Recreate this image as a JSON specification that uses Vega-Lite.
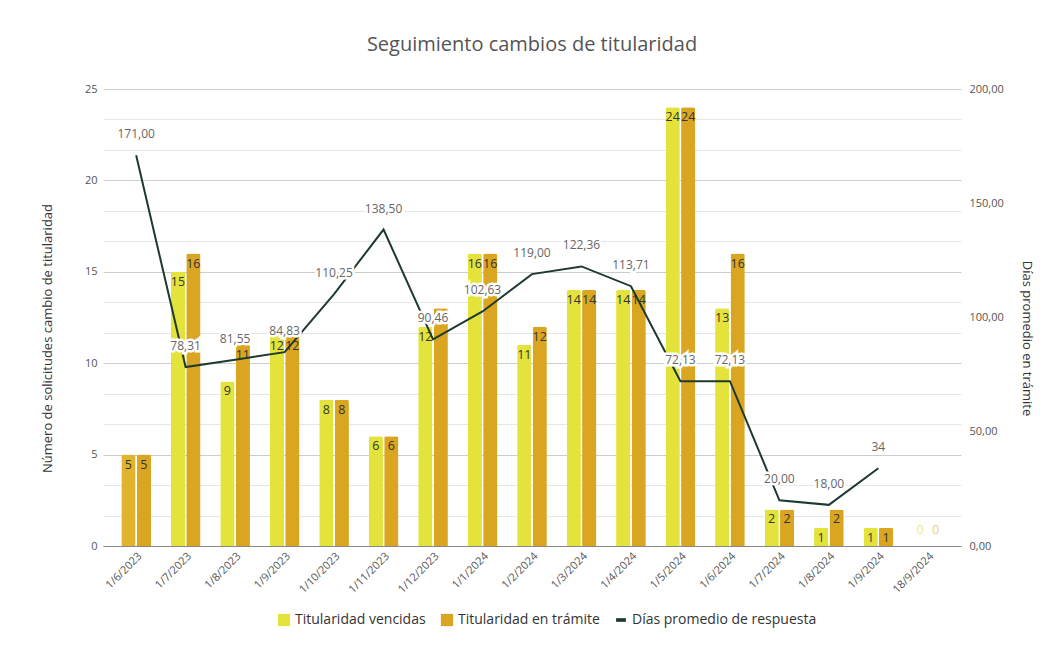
{
  "$schema": "https://vega.github.io/schema/vega-lite/v6.json",
  "width": 858,
  "height": 457,
  "autosize": {"type": "none"},
  "padding": {"left": 103, "top": 89, "right": 99, "bottom": 114},
  "background": "white",
  "config": {
    "locale": {"number": {"decimal": ",", "thousands": ".", "grouping": [3], "currency": ["", " €"]}},
    "font": "Open Sans",
    "view": {"stroke": null},
    "axis": {"labelColor": "#555555", "titleColor": "#333333", "labelFontSize": 11, "titleFontSize": 13, "titleFontWeight": "normal", "ticks": false},
    "legend": {"labelFontSize": 14, "labelColor": "#333333", "symbolSize": 150, "symbolStrokeWidth": 0, "columnPadding": 14, "labelLimit": 400}
  },
  "title": {"text": "Seguimiento cambios de titularidad", "fontSize": 20, "fontWeight": "normal", "color": "#555555", "offset": 28, "anchor": "middle"},
  "data": {
    "values": [
      {"fecha": "1/6/2023", "Titularidad vencidas": 5, "Titularidad en trámite": 5, "dias": 171},
      {"fecha": "1/7/2023", "Titularidad vencidas": 15, "Titularidad en trámite": 16, "dias": 78.31},
      {"fecha": "1/8/2023", "Titularidad vencidas": 9, "Titularidad en trámite": 11, "dias": 81.55},
      {"fecha": "1/9/2023", "Titularidad vencidas": 11.5, "Titularidad en trámite": 11.5, "dias": 84.83},
      {"fecha": "1/10/2023", "Titularidad vencidas": 8, "Titularidad en trámite": 8, "dias": 110.25},
      {"fecha": "1/11/2023", "Titularidad vencidas": 6, "Titularidad en trámite": 6, "dias": 138.5},
      {"fecha": "1/12/2023", "Titularidad vencidas": 12, "Titularidad en trámite": 13, "dias": 90.46},
      {"fecha": "1/1/2024", "Titularidad vencidas": 16, "Titularidad en trámite": 16, "dias": 102.63},
      {"fecha": "1/2/2024", "Titularidad vencidas": 11, "Titularidad en trámite": 12, "dias": 119},
      {"fecha": "1/3/2024", "Titularidad vencidas": 14, "Titularidad en trámite": 14, "dias": 122.36},
      {"fecha": "1/4/2024", "Titularidad vencidas": 14, "Titularidad en trámite": 14, "dias": 113.71},
      {"fecha": "1/5/2024", "Titularidad vencidas": 24, "Titularidad en trámite": 24, "dias": 72.13},
      {"fecha": "1/6/2024", "Titularidad vencidas": 13, "Titularidad en trámite": 16, "dias": 72.13},
      {"fecha": "1/7/2024", "Titularidad vencidas": 2, "Titularidad en trámite": 2, "dias": 20},
      {"fecha": "1/8/2024", "Titularidad vencidas": 1, "Titularidad en trámite": 2, "dias": 18},
      {"fecha": "1/9/2024", "Titularidad vencidas": 1, "Titularidad en trámite": 1, "dias": 34},
      {"fecha": "18/9/2024", "Titularidad vencidas": 0, "Titularidad en trámite": 0, "dias": null}
    ]
  },
  "encoding": {
    "x": {
      "field": "fecha", "type": "nominal", "sort": null,
      "scale": {"paddingInner": 0.4, "paddingOuter": 0.37},
      "axis": {"title": null, "labelAngle": -45, "domainColor": "#888888", "labelPadding": 4, "labelColor": "#555555"}
    }
  },
  "layer": [
    {
      "transform": [{"fold": ["Titularidad vencidas", "Titularidad en trámite"], "as": ["serie", "valor"]}],
      "encoding": {
        "xOffset": {"field": "serie", "type": "nominal", "sort": ["Titularidad vencidas", "Titularidad en trámite"], "scale": {"paddingInner": 0.08}},
        "y": {
          "field": "valor", "type": "quantitative",
          "scale": {"domain": [0, 25], "nice": false},
          "axis": {
            "title": "Número de solicitudes cambio de titularidad",
            "values": [0, 1.6667, 3.3333, 5, 6.6667, 8.3333, 10, 11.6667, 13.3333, 15, 16.6667, 18.3333, 20, 21.6667, 23.3333, 25],
            "format": ".0f",
            "labelExpr": "abs(datum.value / 5 - round(datum.value / 5)) < 0.01 ? datum.label : ''",
            "gridColor": {"condition": {"test": "abs(datum.value / 5 - round(datum.value / 5)) < 0.01", "value": "#cccccc"}, "value": "#e6e6e6"},
            "domain": false,
            "labelPadding": 6,
            "titlePadding": 30,
            "titleY": 249
          }
        }
      },
      "layer": [
        {
          "mark": {"type": "bar", "cornerRadiusEnd": 2},
          "encoding": {
            "color": {
              "condition": {"test": "datum.fecha == '1/6/2023' && datum.serie == 'Titularidad vencidas'", "value": "#e0b42c"},
              "field": "serie", "type": "nominal",
              "scale": {"domain": ["Titularidad vencidas", "Titularidad en trámite", "Días promedio de respuesta"], "range": ["#e3e33b", "#daa621", "#1d3a2e"]},
              "legend": {
                "title": null, "orient": "none", "legendX": 174, "legendY": 524, "direction": "horizontal", "symbolType": "square",
                "encode": {"symbols": {"update": {"shape": {"signal": "datum.value === 'Días promedio de respuesta' ? 'M-0.8,-0.3H0.8V0.3H-0.8Z' : 'square'"}}}}
              }
            }
          }
        },
        {
          "transform": [{"filter": "datum.valor > 0"}],
          "mark": {"type": "text", "dy": 10, "fontSize": 12.5, "color": "#333333", "baseline": "middle"},
          "encoding": {"text": {"field": "valor", "type": "quantitative", "format": ".0f"}}
        },
        {
          "transform": [{"filter": "datum.valor == 0"}],
          "mark": {"type": "text", "dy": -16, "fontSize": 12.5, "baseline": "middle"},
          "encoding": {
            "text": {"field": "valor", "type": "quantitative", "format": ".0f"},
            "color": {"condition": {"test": "datum.serie == 'Titularidad vencidas'", "value": "#ecec80"}, "value": "#e6cf80"}
          }
        }
      ]
    },
    {
      "transform": [{"filter": "isValid(datum.dias)"}],
      "encoding": {
        "y": {
          "field": "dias", "type": "quantitative",
          "scale": {"domain": [0, 200], "nice": false},
          "axis": {
            "orient": "right", "title": "Días promedio en trámite",
            "values": [0, 50, 100, 150, 200], "format": ",.2f",
            "grid": false, "domain": false, "labelPadding": 8, "titlePadding": 16, "titleY": 249
          }
        }
      },
      "layer": [
        {
          "mark": {"type": "line", "strokeWidth": 2},
          "encoding": {"color": {"datum": "Días promedio de respuesta"}}
        },
        {
          "mark": {"type": "text", "dy": -21, "fontSize": 12, "color": "white", "stroke": "white", "strokeWidth": 5, "baseline": "middle"},
          "encoding": {"text": {"condition": {"test": "datum.dias == 34", "field": "dias", "format": "d"}, "field": "dias", "type": "quantitative", "format": ",.2f"}}
        },
        {
          "mark": {"type": "text", "dy": -21, "fontSize": 12, "color": "#666666", "baseline": "middle"},
          "encoding": {"text": {"condition": {"test": "datum.dias == 34", "field": "dias", "format": "d"}, "field": "dias", "type": "quantitative", "format": ",.2f"}}
        }
      ]
    }
  ],
  "resolve": {"scale": {"y": "independent"}}
}
